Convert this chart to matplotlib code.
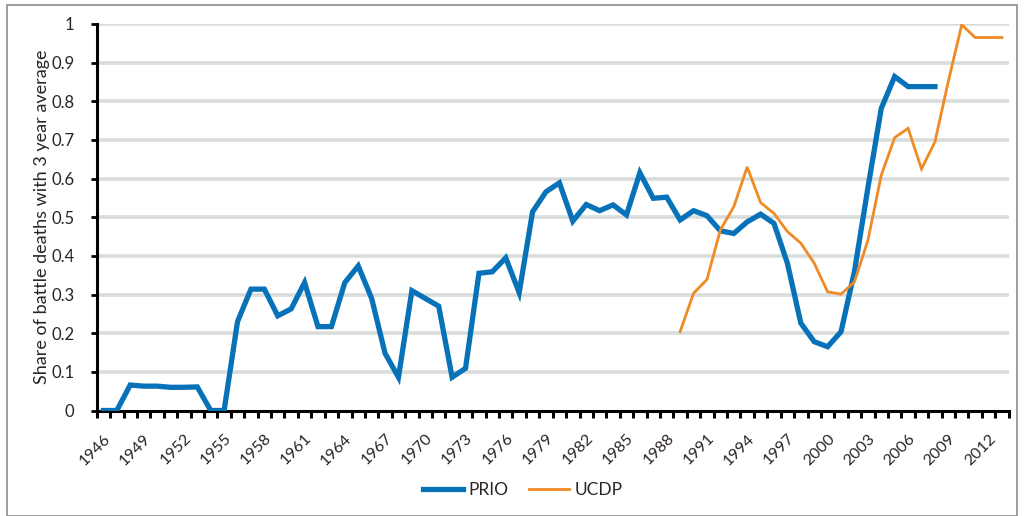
import matplotlib
matplotlib.use("Agg")
import matplotlib.pyplot as plt
from matplotlib.patches import Rectangle
import numpy as np

plt.rcParams['font.family'] = ['Lato', 'DejaVu Sans']

prio_years = list(range(1946, 2009))
prio_values = [
    0.0, 0.0, 0.066, 0.063, 0.063, 0.060, 0.060, 0.061, 0.0, 0.0,      # 1946-1955
    0.230, 0.314, 0.314, 0.245, 0.263, 0.331, 0.217, 0.217, 0.331, 0.374,  # 1956-1965
    0.290, 0.148, 0.086, 0.310, 0.290, 0.270, 0.086, 0.109, 0.355, 0.359,  # 1966-1975
    0.395, 0.305, 0.514, 0.566, 0.589, 0.490, 0.533, 0.517, 0.532, 0.506,  # 1976-1985
    0.615, 0.549, 0.552, 0.493, 0.517, 0.504, 0.465, 0.458, 0.488, 0.508,  # 1986-1995
    0.484, 0.381, 0.226, 0.178, 0.165, 0.204, 0.360, 0.576, 0.782, 0.864,  # 1996-2005
    0.838, 0.838, 0.838,                                                   # 2006-2008
]

ucdp_years = list(range(1989, 2014))
ucdp_values = [
    0.204, 0.303, 0.339, 0.467, 0.527, 0.630, 0.538, 0.510, 0.463, 0.433,  # 1989-1998
    0.381, 0.307, 0.301, 0.333, 0.440, 0.609, 0.706, 0.730, 0.625, 0.695,  # 1999-2008
    0.852, 0.998, 0.965, 0.965, 0.965,                                     # 2009-2013
]

label_years = list(range(1946, 2013, 3))
y_ticks = [0, 0.1, 0.2, 0.3, 0.4, 0.5, 0.6, 0.7, 0.8, 0.9, 1.0]
y_ticklabels = ["0", "0.1", "0.2", "0.3", "0.4", "0.5", "0.6", "0.7", "0.8", "0.9", "1"]

text_color = "#2b2522"
prio_color = "#0872b8"
ucdp_color = "#f08a24"
grid_color = "#d8dddc"

fig = plt.figure(figsize=(10.24, 5.16), dpi=100)
fig.patches.append(Rectangle((7 / 1024, 0), 1010 / 1024, 1 - 4.5 / 516,
                             transform=fig.transFigure, fill=False,
                             edgecolor="#8c8c8c", linewidth=1.2))

ax = fig.add_axes([96.7 / 1024, 1 - 410.5 / 516, 912 / 1024, (410.5 - 24) / 516])

for yv in y_ticks[1:]:
    ax.axhline(yv, color=grid_color, linewidth=2.6, zorder=1)

ax.plot(prio_years, prio_values, color=prio_color, linewidth=3.8,
        solid_joinstyle="miter", label="PRIO", zorder=3)
ax.plot(ucdp_years, ucdp_values, color=ucdp_color, linewidth=2.0,
        solid_joinstyle="miter", label="UCDP", zorder=4)

ax.set_xlim(1945.5, 2013.5)
ax.set_ylim(0, 1.0)

ax.set_xticks(label_years)
ax.set_xticklabels([str(y) for y in label_years], rotation=45, ha="right",
                   rotation_mode="anchor", fontsize=11.5, color=text_color)
ax.set_xticks(np.arange(1945.5, 2014.0, 1.0), minor=True)
ax.tick_params(axis="x", which="major", length=0, pad=15)
ax.tick_params(axis="x", which="minor", length=5, width=2.2, color="black",
               direction="out")

ax.set_yticks(y_ticks)
ax.set_yticklabels(y_ticklabels, fontsize=12, color=text_color)
ax.tick_params(axis="y", which="major", length=4, width=2, color="black",
               direction="out", pad=12)

for side in ["top", "right"]:
    ax.spines[side].set_visible(False)
for side in ["left", "bottom"]:
    ax.spines[side].set_linewidth(2.2)
    ax.spines[side].set_color("black")

ax.set_ylabel("Share of battle deaths with 3 year average", fontsize=13,
              color=text_color, labelpad=1)

leg = fig.legend(loc="center", bbox_to_anchor=(523 / 1024, 1 - 490 / 516),
                 ncol=2, frameon=False, fontsize=12.5, handlelength=2.3,
                 handletextpad=0.3, columnspacing=1.2)
for t in leg.get_texts():
    t.set_color(text_color)

fig.savefig("out.png", dpi=100)
